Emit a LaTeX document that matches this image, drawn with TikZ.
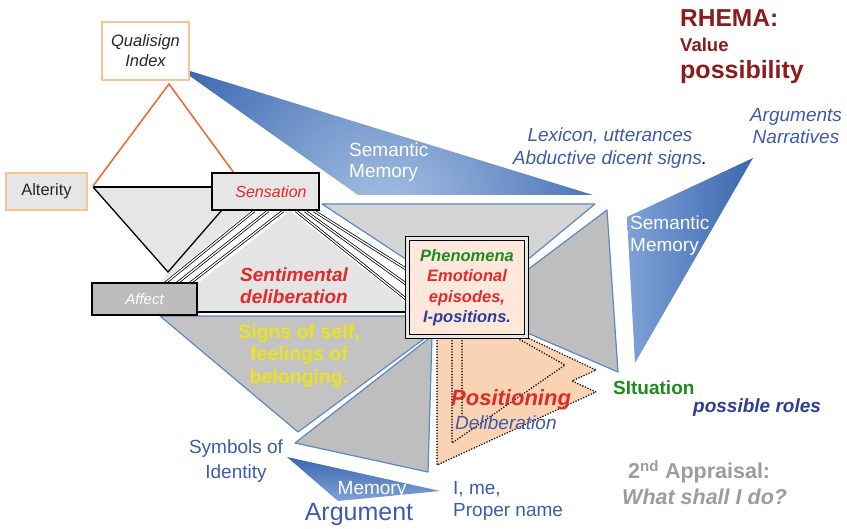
\documentclass[tikz,border=0pt]{standalone}
\usepackage{fontspec}
\setmainfont{Liberation Sans}
\usetikzlibrary{calc}

\definecolor{semDark}{HTML}{3A67AF}
\definecolor{semLight}{HTML}{A7C1E5}
\definecolor{semMid}{HTML}{7FA2D7}
\definecolor{edgeBlue}{HTML}{5C88C6}
\definecolor{grayUp}{HTML}{D4D4D4}
\definecolor{grayRight}{HTML}{BEBEBE}
\definecolor{grayLow}{HTML}{C3C3C3}
\definecolor{grayBot}{HTML}{BEBEBE}
\definecolor{paleGray}{HTML}{E4E4E4}
\definecolor{peach}{HTML}{F9D3B4}
\definecolor{phenFill}{HTML}{FDE8DB}
\definecolor{orangeLine}{HTML}{EF6C38}
\definecolor{orangeBox}{HTML}{F7C496}
\definecolor{txtBlue}{HTML}{3F5BAA}
\definecolor{txtNavy}{HTML}{2E3E98}
\definecolor{txtRed}{HTML}{E22A2A}
\definecolor{txtGreen}{HTML}{1E8B1E}
\definecolor{txtYellow}{HTML}{EBE31E}
\definecolor{rhemaRed}{HTML}{8C1C1C}
\definecolor{apprGray}{HTML}{9C9C9C}
\definecolor{affectGray}{HTML}{BDBDBD}
\definecolor{boxGray}{HTML}{E6E6E6}

\newcommand{\setfs}[2]{\fontsize{#1}{#2}\selectfont}

\tikzset{
  lbl/.style={inner sep=0pt, align=center},
  greytri/.style={draw=edgeBlue, line width=1.2pt, line join=round},
  bundle/.style={draw=black, line width=0.75pt, double=white, double distance=1.3pt},
  dotline/.style={draw=black!90, line width=1.8pt, line cap=round, dash pattern=on 0pt off 2.8pt},
  blackedge/.style={draw=black, line width=1.3pt},
}

\begin{document}
\begin{tikzpicture}[x=1pt,y=-1pt]
\useasboundingbox (0,0) rectangle (847,529);
\fill[white] (0,0) rectangle (847,529);

% --- blue memory wedges -------------------------------------------------
\begin{scope}
  \clip (177,67) -- (358,195) -- (593,195) -- cycle;
  \shade[inner color=semLight, outer color=semDark] (385,215) circle (250);
\end{scope}
\shade[left color=semMid, right color=semDark]
  (627,217) -- (753,158) -- (635,363) -- cycle;

% --- grey triangles converging behind the phenomena box ----------------
\filldraw[greytri, fill=grayUp]    (322,204) -- (595,204) -- (474,304) -- cycle;
\filldraw[greytri, fill=grayRight] (474,310) -- (607,210) -- (618,372) -- cycle;
\filldraw[greytri, fill=grayLow]   (160,316) -- (455,316) -- (298,432) -- cycle;
\filldraw[greytri, fill=grayBot]   (295,443) -- (432,336) -- (428,472) -- cycle;

% --- small memory wedge at the bottom -----------------------------------
\shade[top color=semDark, bottom color=semMid]
  (287,457) -- (440,491) -- (338,501) -- cycle;

% --- positioning (dotted peach triangles) -------------------------------
\fill[peach]
  (437,338) -- (437,465) -- (596,392) -- (572,381) -- (596,370) -- (528,338) -- cycle;
\draw[dotline]
  (437,338) -- (437,465) -- (596,392) -- (572,381) -- (596,370) -- (528,338);
\draw[dotline] (452,338) -- (452,443) -- (565,365) -- (517,338);
\draw[dotline] (462,338) -- (462,418);

% --- alterity triangle ---------------------------------------------------
\fill[boxGray] (93,187) -- (212,187) -- (212,210) -- (250,211) -- (160,284) -- (168,272) -- cycle;
\draw[blackedge] (93,187) -- (212,187);
\draw[blackedge] (93,187) -- (168,272) -- (222,210);

% --- sentimental deliberation triangle ----------------------------------
\fill[paleGray] (197,284) -- (290,211) -- (406,302) -- (406,312) -- (197,312) -- cycle;
\draw[blackedge] (197,312) -- (406,312);
\foreach \a/\b in {164/254, 176/268, 189/283}
  \draw[bundle] (\a,284) -- (\b,211);
\foreach \a/\b in {296/299, 305/284, 314/269}
  \draw[bundle] (\a,211) -- (406,\b);

% --- qualisign triangle --------------------------------------------------
\coordinate (qapex) at (169,84);
\coordinate (qleft) at (93,186);
\coordinate (qright) at (234,173);
\draw[orangeLine, line width=1.6pt] (qleft) -- (qapex) -- (qright);

% --- boxes ---------------------------------------------------------------
\node[draw=orangeBox, line width=2.5pt, fill=white, minimum width=87pt, minimum height=58pt,
      inner sep=0pt, align=center, text=black!85, font=\setfs{16.5}{20}\itshape]
  (quali) at (145.5,51) {Qualisign\\Index};
\node[draw=orangeBox, line width=2.5pt, fill=boxGray, minimum width=81pt, minimum height=37pt,
      inner sep=0pt, text=black!85, font=\setfs{16.5}{20}]
  (alterity) at (46.5,191.5) {Alterity};
\node[draw=black, line width=1.8pt, fill=boxGray, minimum width=107pt, minimum height=37pt,
      inner sep=0pt, text=txtRed, font=\setfs{16}{20}\itshape]
  (sensation) at (265.5,191.5) {\hspace*{11pt}Sensation};
\node[draw=black, line width=1.5pt, fill=affectGray, minimum width=105pt, minimum height=32pt,
      inner sep=0pt, text=white, font=\setfs{15}{18}\itshape]
  (affect) at (144.5,299) {Affect};
\node[draw=black, line width=1.1pt, double=boxGray, double distance=2.2pt, fill=phenFill,
      minimum width=119pt, minimum height=98pt, inner sep=0pt, align=center,
      font=\setfs{16.5}{20.5}\bfseries\itshape]
  (phen) at (467,287.5)
  {\textcolor{txtGreen}{Phenomena}\\
   \textcolor{txtRed}{Emotional}\\
   \textcolor{txtRed}{episodes,}\\
   \textcolor{txtNavy}{I-positions.}};

% --- labels --------------------------------------------------------------
\node[lbl, anchor=west, align=left, text=white, font=\setfs{19}{21}]
  (semtop) at (349,162) {Semantic\\Memory};
\node[lbl, text=txtBlue, font=\setfs{19}{22.5}\itshape]
  (lexicon) at (610,148) {Lexicon, utterances\\Abductive dicent signs\textcolor{black}{.}};
\node[lbl, text=txtBlue, font=\setfs{19}{22}\itshape]
  (args) at (796,126) {Arguments\\Narratives};
\node[lbl, anchor=west, text=rhemaRed, font=\setfs{24.5}{28}\bfseries] (rhema) at (680,18) {RHEMA:};
\node[lbl, anchor=west, text=rhemaRed, font=\setfs{18.5}{22}\bfseries] (value) at (680,45) {Value};
\node[lbl, anchor=west, text=rhemaRed, font=\setfs{25}{28}\bfseries] (poss) at (680,72) {possibility};
\node[lbl, anchor=west, align=left, text=white, font=\setfs{19}{22}]
  (semright) at (630,236) {Semantic\\Memory};
\node[lbl, anchor=west, text=txtGreen, font=\setfs{19}{22}\bfseries] (situation) at (613,388) {SItuation};
\node[lbl, anchor=west, text=txtNavy, font=\setfs{19}{22}\bfseries\itshape] (roles) at (693,408) {possible roles};
\node[lbl, anchor=west, text=apprGray, font=\setfs{21.5}{25}\bfseries] (appr) at (628,472) {2\textsuperscript{nd} Appraisal:};
\node[lbl, anchor=west, text=apprGray, font=\setfs{21.5}{25}\bfseries\itshape] (what) at (622,497) {What shall I do?};
\node[lbl, text=txtBlue, font=\setfs{19}{25}] (symbols) at (236,461) {Symbols of\\Identity};
\node[lbl, text=white, font=\setfs{19}{22}] (membot) at (372,490) {Memory};
\node[lbl, text=txtBlue, font=\setfs{25}{28}] (argument) at (359,514) {Argument};
\node[lbl, anchor=west, align=left, text=txtBlue, font=\setfs{19}{22}] (ime) at (453,501) {I, me,\\Proper name};
\node[lbl, anchor=west, text=txtRed, font=\setfs{22}{25}\bfseries\itshape] (positioning) at (451,400) {Positioning};
\node[lbl, anchor=west, text=txtBlue, font=\setfs{19}{22}\itshape] (delib) at (455,423) {Deliberation};
\node[lbl, text=txtRed, font=\setfs{19}{22}\bfseries\itshape] (sentim) at (294,286) {Sentimental\\deliberation};
\node[lbl, text=txtYellow, font=\setfs{19.5}{22.5}\bfseries] (signs) at (299,356) {Signs of self,\\feelings of\\belonging.};
\end{tikzpicture}
\end{document}
